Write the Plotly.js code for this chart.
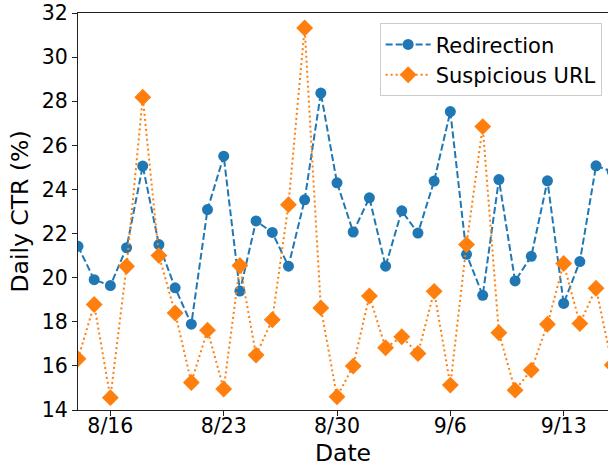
<!DOCTYPE html>
<html>
<head>
<meta charset="utf-8">
<script src="https://cdn.plot.ly/plotly-3.0.1.min.js"></script>
<style>html,body{margin:0;padding:0;overflow:hidden;background:#fff}#chart{width:608px;height:467px}</style>
</head>
<body>
<div id="chart"></div>
<script>
const dates = [
  "2020-08-14","2020-08-15","2020-08-16","2020-08-17","2020-08-18","2020-08-19","2020-08-20",
  "2020-08-21","2020-08-22","2020-08-23","2020-08-24","2020-08-25","2020-08-26","2020-08-27",
  "2020-08-28","2020-08-29","2020-08-30","2020-08-31","2020-09-01","2020-09-02","2020-09-03",
  "2020-09-04","2020-09-05","2020-09-06","2020-09-07","2020-09-08","2020-09-09","2020-09-10",
  "2020-09-11","2020-09-12","2020-09-13","2020-09-14","2020-09-15","2020-09-16"
];
const redirection = [
  21.42, 19.91, 19.64, 21.36, 25.06, 21.50, 19.54,
  17.89, 23.09, 25.51, 19.39, 22.57, 22.05, 20.52,
  23.53, 28.37, 24.30, 22.07, 23.62, 20.52, 23.03,
  22.02, 24.38, 27.53, 21.06, 19.20, 24.45, 19.85,
  20.97, 24.39, 18.83, 20.73, 25.07, 24.81
];
const suspiciousURL = [
  16.32, 18.78, 14.56, 20.52, 28.18, 21.00, 18.40,
  15.25, 17.62, 14.95, 20.55, 16.49, 18.09, 23.31,
  31.32, 18.63, 14.60, 15.99, 19.17, 16.82, 17.32,
  16.56, 19.38, 15.13, 21.50, 26.85, 17.50, 14.90,
  15.81, 17.89, 20.64, 17.92, 19.52, 16.04
];
const xTickVals = ["2020-08-16","2020-08-23","2020-08-30","2020-09-06","2020-09-13"];
const xTickText = ["8/16","8/23","8/30","9/6","9/13"];
const yTickVals = [14,16,18,20,22,24,26,28,30,32];

const font = "DejaVu Sans, sans-serif";
const traces = [
  {
    x: dates, y: redirection, name: "Redirection", type: "scatter", mode: "lines+markers",
    line: {color: "#1f77b4", width: 2, dash: "7px,3px"},
    marker: {color: "#1f77b4", size: 11, symbol: "circle"}
  },
  {
    x: dates, y: suspiciousURL, name: "Suspicious URL", type: "scatter", mode: "lines+markers",
    line: {color: "#ff7f0e", width: 2, dash: "2px,3px"},
    marker: {color: "#ff7f0e", size: 13, symbol: "diamond"}
  }
];
const layout = {
  width: 608, height: 467,
  margin: {l: 78, r: 0, t: 13, b: 57, pad: 0},
  paper_bgcolor: "#fff", plot_bgcolor: "#fff",
  font: {family: font, size: 20.5, color: "#000"},
  showlegend: true,
  legend: {
    x: 0.988, y: 0.974, xanchor: "right", yanchor: "top",
    bgcolor: "rgba(255,255,255,0.8)", bordercolor: "#cccccc", borderwidth: 1,
    font: {family: font, size: 21, color: "#000"},
    itemwidth: 45,
    tracegroupgap: 4
  },
  xaxis: {
    type: "date",
    range: ["2020-08-14", "2020-09-15 17:45"],
    tickvals: xTickVals, ticktext: xTickText,
    showgrid: false, zeroline: false,
    showline: true, linecolor: "#222", linewidth: 1, mirror: true,
    ticks: "outside", ticklen: 5, tickwidth: 1, tickcolor: "#222",
    ticklabelstandoff: -8,
    tickfont: {family: font, size: 20.5, color: "#000"},
    title: {text: "Date", font: {family: font, size: 23.5, color: "#000"}, standoff: 8},
    automargin: false
  },
  yaxis: {
    range: [14, 32],
    tickvals: yTickVals,
    showgrid: false, zeroline: false,
    showline: true, linecolor: "#222", linewidth: 1,
    ticks: "outside", ticklen: 5, tickwidth: 1, tickcolor: "#222",
    tickfont: {family: font, size: 20.5, color: "#000"},
    title: {text: "Daily CTR (%)", font: {family: font, size: 23.5, color: "#000"}, standoff: 6},
    automargin: false
  }
};
Plotly.newPlot("chart", traces, layout, {staticPlot: true, displayModeBar: false});
</script>
</body>
</html>
